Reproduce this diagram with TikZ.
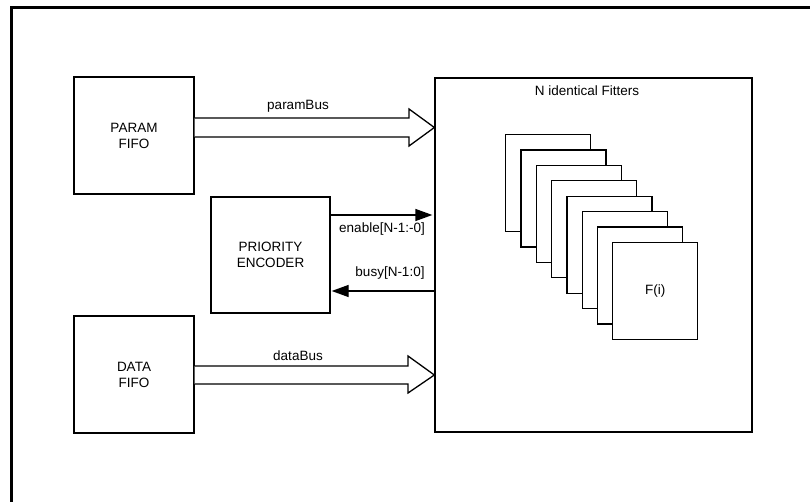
\documentclass[tikz,border=0pt]{standalone}
\usepackage{fontspec}
\setmainfont{Liberation Sans}
\usetikzlibrary{calc,arrows.meta}
\begin{document}
\begin{tikzpicture}[x=1pt,y=-1pt,
  box/.style={draw=black,line width=1.3pt,fill=white,rectangle,inner sep=0pt,
    font=\fontsize{13.5}{16}\selectfont,align=center},
  bus/.style={draw=black,line width=1.3pt,fill=white,line join=miter},
  sig/.style={draw=black,line width=1.3pt,-{Triangle[length=17pt,width=12pt]}},
  lbl/.style={font=\fontsize{13.5}{16}\selectfont,inner sep=0pt}]
\useasboundingbox (0,0) rectangle (810,502);
\begin{scope}
\clip (0,0) rectangle (810,502);
\draw[line width=3pt] (11.5,520) -- (11.5,7.5) -- (830,7.5);
\end{scope}
% nodes
\node[box,minimum width=120pt,minimum height=117pt] (param) at (134,135.5) {PARAM\\FIFO};
\node[box,minimum width=120pt,minimum height=117pt] (data) at (134,374.5) {DATA\\FIFO};
\node[box,minimum width=119pt,minimum height=116pt] (prio) at (270.5,255) {PRIORITY\\ENCODER};
\node[box,minimum width=317pt,minimum height=354pt] (fit) at (593.5,255) {};
\node[lbl] (fitlbl) at (587,91) {N identical Fitters};
% stacked fitters
\foreach \k in {0,...,6} {
  \node[box,minimum width=85pt,minimum height=97pt,anchor=north west] (f\k) at ({505+15.3*\k},{134+15.4*\k}) {};
}
\node[box,minimum width=85pt,minimum height=97pt,anchor=north west] (f7) at ({505+15.3*7},{134+15.4*7}) {F(i)};
% buses
\draw[bus] (param.east |- 0,118) -- (409,118) -- (409,109) -- (fit.west |- 0,127.5)
  -- (409,146) -- (409,137) -- (param.east |- 0,137);
\draw[bus] (data.east |- 0,366) -- (408,366) -- (408,356) -- (fit.west |- 0,375)
  -- (408,393) -- (408,384) -- (data.east |- 0,384);
\node[lbl] (pbl) at (298,106) {paramBus};
\node[lbl] (dbl) at (298,356) {dataBus};
% signals
\draw[sig] (prio.east |- 0,215) -- ($(fit.west |- 0,215)+(-2,0)$);
\draw[sig] (fit.west |- 0,291) -- ($(prio.east |- 0,291)+(1,0)$);
\node[lbl] (enl) at (382,229) {enable[N-1:-0]};
\node[lbl] (bsl) at (390,273) {busy[N-1:0]};
\end{tikzpicture}
\end{document}
